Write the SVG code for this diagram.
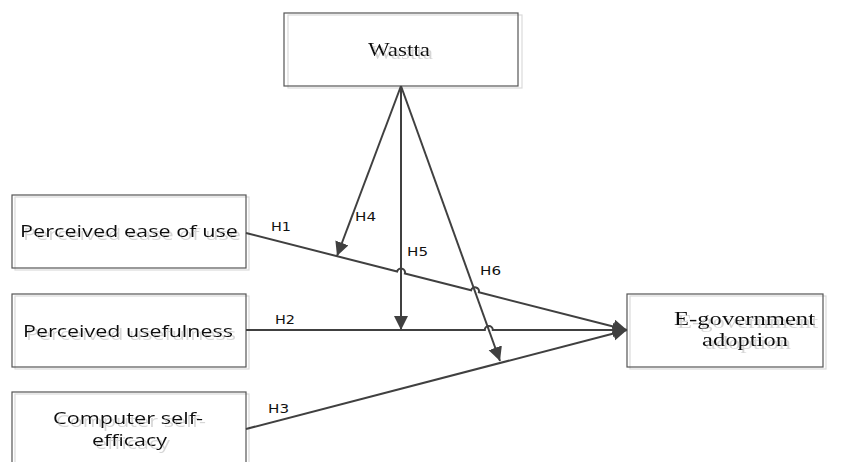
<svg xmlns="http://www.w3.org/2000/svg" width="851" height="462" viewBox="0 0 851 462">
<style>
.box{fill:none;stroke:#555;stroke-width:1.2}
.sh{fill:none;stroke:#dadada;stroke-width:1.2}
.ln{fill:none;stroke:#404040;stroke-width:2}
.serif{font-family:"Liberation Serif","Times New Roman",serif;font-size:18px;fill:#111}
.sans{font-family:"Open Sans","Liberation Sans",sans-serif;font-size:16.5px;fill:#111}
.lbl{font-family:"DejaVu Sans","Liberation Sans",sans-serif;font-size:13px;fill:#111}
</style>
<defs>
<marker id="ah" markerUnits="userSpaceOnUse" markerWidth="15" markerHeight="15" refX="14" refY="7" orient="auto">
<path d="M0,0 L14,7 L0,14 z" fill="#404040"/>
</marker>
<filter id="ts" x="-10%" y="-30%" width="130%" height="170%">
<feFlood flood-color="#d6d6d6" result="f"/>
<feComposite in="f" in2="SourceAlpha" operator="in" result="s"/>
<feOffset in="s" dx="3" dy="3" result="o"/>
<feMerge><feMergeNode in="o"/><feMergeNode in="SourceGraphic"/></feMerge>
</filter>
</defs>
<rect width="851" height="462" fill="#fff"/>
<g id="wastta">
<rect class="sh" x="288" y="15" width="234" height="73"/>
<rect class="box" x="284" y="13" width="234" height="73"/>
<text class="serif" x="368" y="56" font-size="20" textLength="62" lengthAdjust="spacingAndGlyphs" filter="url(#ts)">Wastta</text>
</g>
<g id="peou">
<rect class="sh" x="15" y="197" width="234" height="73"/>
<rect class="box" x="12" y="195" width="234" height="73"/>
<text class="sans" x="20" y="237" textLength="218" lengthAdjust="spacingAndGlyphs" filter="url(#ts)">Perceived ease of use</text>
</g>
<g id="pu">
<rect class="sh" x="15" y="296" width="234" height="73"/>
<rect class="box" x="12" y="294" width="234" height="73"/>
<text class="sans" x="23" y="337" textLength="210" lengthAdjust="spacingAndGlyphs" filter="url(#ts)">Perceived usefulness</text>
</g>
<g id="cse">
<rect class="sh" x="15" y="394" width="234" height="80"/>
<rect class="box" x="12" y="392" width="234" height="80"/>
<text class="sans" x="53" y="424" font-size="15.5" textLength="150" lengthAdjust="spacingAndGlyphs" filter="url(#ts)">Computer self-</text>
<text class="sans" x="92" y="446" font-size="15.5" textLength="75" lengthAdjust="spacingAndGlyphs" filter="url(#ts)">efficacy</text>
</g>
<g id="egov">
<rect class="sh" x="630" y="296" width="196" height="73"/>
<rect class="box" x="627" y="294" width="196" height="73"/>
<text class="serif" x="674" y="325" textLength="141" lengthAdjust="spacingAndGlyphs" filter="url(#ts)">E-government</text>
<text class="serif" x="702" y="346" textLength="86" lengthAdjust="spacingAndGlyphs" filter="url(#ts)">adoption</text>
</g>
<g id="connectors">
<path class="ln" marker-end="url(#ah)" d="M246,233 L397.1,271.5 A4,4 0 0 1 404.9,273.5 L471.1,290.3 A4,4 0 0 1 478.9,292.3 L627,330"/>
<path class="ln" marker-end="url(#ah)" d="M246,330 L484.8,330 A4,4 0 0 1 492.8,330 L627,330"/>
<path class="ln" marker-end="url(#ah)" d="M246,429 L627,330"/>
<path class="ln" marker-end="url(#ah)" d="M401,86 L337,256"/>
<path class="ln" marker-end="url(#ah)" d="M401,86 L401,330"/>
<path class="ln" marker-end="url(#ah)" d="M401,86 L500,361"/>
<text class="lbl" x="271" y="231" textLength="20" lengthAdjust="spacingAndGlyphs">H1</text>
<text class="lbl" x="275" y="324" textLength="20" lengthAdjust="spacingAndGlyphs">H2</text>
<text class="lbl" x="268" y="413" textLength="21" lengthAdjust="spacingAndGlyphs">H3</text>
<text class="lbl" x="355" y="221" textLength="21" lengthAdjust="spacingAndGlyphs">H4</text>
<text class="lbl" x="407" y="256" textLength="21" lengthAdjust="spacingAndGlyphs">H5</text>
<text class="lbl" x="480" y="275" textLength="21" lengthAdjust="spacingAndGlyphs">H6</text>
</g>
</svg>
